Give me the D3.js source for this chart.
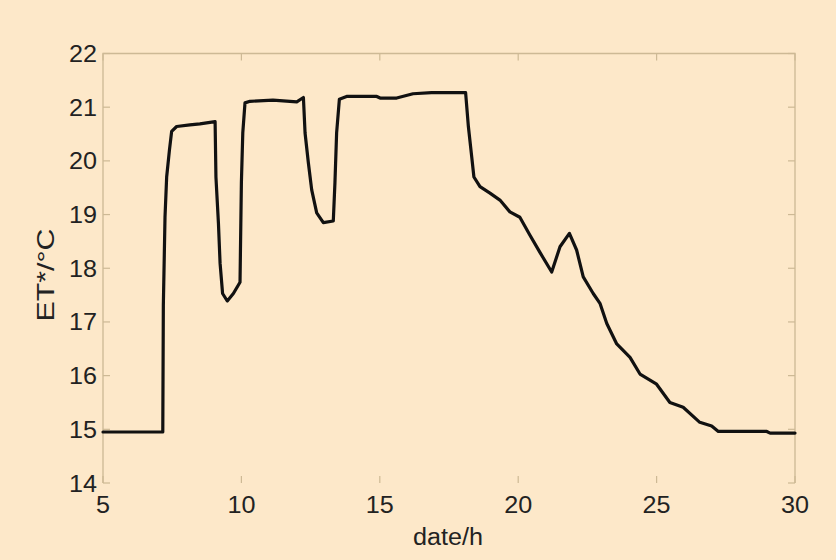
<!DOCTYPE html>
<html>
<head>
<meta charset="utf-8">
<script src="https://cdn.jsdelivr.net/npm/d3@7/dist/d3.min.js"></script>
<style>
  html, body { margin: 0; padding: 0; background: #fde8c9; }
  svg { display: block; }
  text { font-family: "Liberation Sans", Arial, Helvetica, sans-serif; fill: #222; }
</style>
</head>
<body>
<svg id="chart" width="836" height="560"></svg>
<script>
// Time of day (h) and operative temperature ET* (°C)
const hours = [5.00, 7.16, 7.18, 7.24, 7.30, 7.40, 7.48, 7.66, 8.14, 8.50, 9.05,
  9.08, 9.17, 9.23, 9.32, 9.49, 9.71, 9.95, 10.00, 10.05, 10.13, 10.31, 11.14, 12.00,
  12.24, 12.30, 12.42, 12.54, 12.72, 12.96, 13.32, 13.38, 13.44, 13.54, 13.80, 14.89,
  15.01, 15.61, 16.20, 16.87, 18.10, 18.20, 18.32, 18.40, 18.62, 18.98, 19.34, 19.70,
  20.06, 20.42, 20.78, 21.21, 21.51, 21.85, 22.11, 22.35, 22.71, 22.96, 23.20, 23.56,
  24.04, 24.40, 25.00, 25.48, 25.96, 26.56, 26.99, 27.23, 28.98, 29.10, 30.00];
const etValues = [14.95, 14.95, 17.30, 18.95, 19.70, 20.20, 20.55, 20.64, 20.67, 20.69, 20.73,
  19.70, 18.84, 18.09, 17.53, 17.39, 17.53, 17.74, 19.60, 20.52, 21.08, 21.11, 21.13, 21.10,
  21.18, 20.52, 19.96, 19.46, 19.03, 18.85, 18.88, 19.60, 20.52, 21.15, 21.20, 21.20,
  21.17, 21.17, 21.25, 21.27, 21.27, 20.64, 20.08, 19.70, 19.52, 19.40, 19.27, 19.05,
  18.95, 18.62, 18.30, 17.93, 18.40, 18.65, 18.34, 17.84, 17.53, 17.34, 16.97, 16.59,
  16.34, 16.03, 15.84, 15.50, 15.41, 15.13, 15.06, 14.96, 14.96, 14.93, 14.93];

const xTicks = [5, 10, 15, 20, 25, 30];
const yTicks = [14, 15, 16, 17, 18, 19, 20, 21, 22];
const xLabel = "date/h";
const yLabel = "ET*/°C";

const svg = d3.select("#chart");
const plotLeft = 103, plotRight = 795, plotTop = 53.5, plotBottom = 483;
const axisColor = "#cdb995";

const x = d3.scaleLinear().domain([5, 30]).range([plotLeft, plotRight]);
const y = d3.scaleLinear().domain([14, 22]).range([plotBottom, plotTop]);

// frame: left, top and right edges
svg.append("path")
  .attr("d", `M${plotLeft},${plotBottom}V${plotTop}H${plotRight}V${plotBottom}`)
  .attr("fill", "none").attr("stroke", axisColor).attr("stroke-width", 1.3);

// inward ticks on all four sides
const tickLen = 7;
const g = svg.append("g").attr("stroke", axisColor).attr("stroke-width", 1.2);
xTicks.forEach(t => {
  g.append("line").attr("x1", x(t)).attr("x2", x(t)).attr("y1", plotTop).attr("y2", plotTop + tickLen);
  g.append("line").attr("x1", x(t)).attr("x2", x(t)).attr("y1", plotBottom).attr("y2", plotBottom - tickLen);
});
yTicks.forEach(v => {
  g.append("line").attr("x1", plotLeft).attr("x2", plotLeft + tickLen).attr("y1", y(v)).attr("y2", y(v));
  g.append("line").attr("x1", plotRight).attr("x2", plotRight - tickLen).attr("y1", y(v)).attr("y2", y(v));
});

// tick labels (slightly wide lettering)
const digitW = 14;
svg.append("g").selectAll("text").data(xTicks).join("text")
  .attr("x", d => x(d)).attr("y", 513)
  .attr("text-anchor", "middle").attr("font-size", 23)
  .attr("textLength", d => String(d).length * digitW).attr("lengthAdjust", "spacingAndGlyphs")
  .text(d => d);
svg.append("g").selectAll("text").data(yTicks).join("text")
  .attr("x", 97).attr("y", d => y(d) + 8.5)
  .attr("text-anchor", "end").attr("font-size", 23)
  .attr("textLength", d => String(d).length * digitW).attr("lengthAdjust", "spacingAndGlyphs")
  .text(d => d);

// axis titles
svg.append("text").attr("x", 448).attr("y", 545)
  .attr("text-anchor", "middle").attr("font-size", 23)
  .attr("textLength", 70).attr("lengthAdjust", "spacingAndGlyphs")
  .text(xLabel);
svg.append("text")
  .attr("transform", `translate(54,275) rotate(-90)`)
  .attr("text-anchor", "middle").attr("font-size", 24)
  .attr("textLength", 93).attr("lengthAdjust", "spacingAndGlyphs")
  .text(yLabel);

// temperature curve
const line = d3.line().x((d, i) => x(hours[i])).y(d => y(d));
svg.append("path")
  .attr("d", line(etValues))
  .attr("fill", "none").attr("stroke", "#111").attr("stroke-width", 3.2)
  .attr("stroke-linejoin", "round").attr("stroke-linecap", "round");
</script>
</body>
</html>
